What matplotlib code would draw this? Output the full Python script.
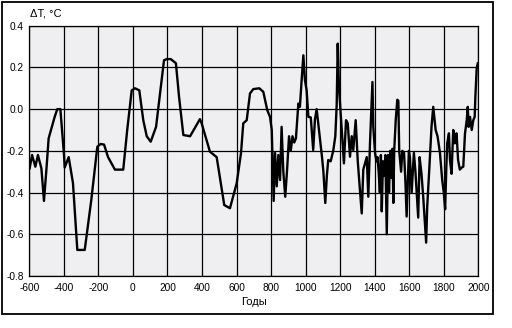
import matplotlib
matplotlib.use("Agg")
import matplotlib.pyplot as plt
from matplotlib.patches import Rectangle

years = [-598, -584, -565, -550, -530, -515, -501, -488, -453, -438, -420, -399, -395,
         -372, -347, -322, -279, -241, -206, -187, -167, -144, -104, -56, -33, -7, 12,
         37, 60, 80, 103, 134, 157, 180, 196, 219, 249, 267, 292, 331, 359, 388, 398,
         446, 485, 529, 562, 601, 626, 639, 659, 678, 697, 732, 755, 778, 794, 804,
         815, 823, 833, 842, 852, 861, 871, 882, 892, 904, 914, 924, 934, 944, 958,
         967, 977, 987, 996, 1006, 1016, 1030, 1044, 1054, 1064, 1075, 1085, 1095,
         1103, 1114, 1123, 1131, 1145, 1160, 1172, 1180, 1186, 1193, 1203, 1212, 1222,
         1234, 1244, 1257, 1267, 1276, 1290, 1302, 1315, 1325, 1334, 1354, 1363, 1373,
         1387, 1392, 1402, 1410, 1416, 1423, 1430, 1436, 1441, 1448, 1455, 1462, 1470,
         1477, 1483, 1490, 1497, 1503, 1508, 1513, 1522, 1531, 1537, 1542, 1553, 1560,
         1570, 1578, 1585, 1592, 1598, 1604, 1614, 1627, 1636, 1652, 1660, 1671, 1681,
         1698, 1704, 1716, 1729, 1739, 1753, 1764, 1778, 1791, 1800, 1808, 1815, 1820,
         1830, 1836, 1845, 1855, 1864, 1874, 1883, 1893, 1904, 1913, 1923, 1933, 1939,
         1944, 1952, 1962, 1971, 1979, 1983, 1991, 1997]
dT = [-0.284, -0.22, -0.276, -0.22, -0.284, -0.44, -0.29, -0.14, -0.037, 0.0, 0.0,
      -0.22, -0.28, -0.23, -0.355, -0.675, -0.675, -0.435, -0.18, -0.167, -0.17,
      -0.23, -0.29, -0.29, -0.10, 0.09, 0.10, 0.09, -0.053, -0.13, -0.156, -0.085,
      0.075, 0.234, 0.24, 0.24, 0.22, 0.06, -0.124, -0.13, -0.09, -0.048, -0.068,
      -0.204, -0.23, -0.46, -0.475, -0.355, -0.21, -0.068, -0.053, 0.075, 0.096,
      0.10, 0.083, -0.005, -0.037, -0.10,
      -0.44, -0.21, -0.37, -0.22, -0.34, -0.085, -0.30, -0.42, -0.30, -0.13,
      -0.20, -0.13, -0.16, -0.14, 0.027,
      0.011, 0.139, 0.258, 0.139, 0.09, -0.037, -0.04, -0.196, -0.05, 0.0,
      -0.08, -0.15, -0.23,
      -0.30, -0.45, -0.32, -0.244, -0.25, -0.20, -0.13, 0.02, 0.314, 0.107,
      -0.02, -0.13, -0.26,
      -0.053, -0.068, -0.228, -0.13, -0.196, -0.053, -0.25, -0.39, -0.50, -0.29,
      -0.23, -0.42, -0.16,
      0.13, -0.085, -0.21, -0.25, -0.23, -0.30, -0.40, -0.22, -0.49, -0.25, -0.32,
      -0.22, -0.60,
      -0.22, -0.40, -0.20, -0.33, -0.19, -0.45, -0.20, -0.05, 0.045, 0.04, -0.20,
      -0.30, -0.20,
      -0.21, -0.35, -0.515, -0.35, -0.20, -0.23, -0.40, -0.21, -0.30, -0.52, -0.23,
      -0.31, -0.42,
      -0.64, -0.47, -0.29, -0.085, 0.011, -0.10, -0.13, -0.21, -0.34, -0.40, -0.48,
      -0.276, -0.164,
      -0.116, -0.244, -0.31, -0.10, -0.164, -0.116, -0.244, -0.29, -0.28, -0.276,
      -0.116, -0.053, 0.011,
      -0.085, -0.037, -0.10, -0.053, -0.037, 0.059, 0.2, 0.22]

xticks = [-600, -400, -200, 0, 200, 400, 600, 800, 1000, 1200, 1400, 1600, 1800, 2000]
xticklabels = ["-600", "-400", "-200", "0", "200", "400", "600", "800", "1000",
               "1200", "1400", "1600", "1800", "2000"]
yticks = [-0.8, -0.6, -0.4, -0.2, 0.0, 0.2, 0.4]
yticklabels = ["-0.8", "-0.6", "-0.4", "-0.2", "0.0", "0.2", "0.4"]

plt.rcParams['font.family'] = ['Liberation Sans', 'DejaVu Sans']

fig = plt.figure(figsize=(5.12, 3.28), dpi=100)
W, H = 512, 328
ax = fig.add_axes([29.3 / W, 1 - 276 / H, (478.3 - 29.3) / W, (276 - 25.7) / H])
ax.set_facecolor('#efeff2')
ax.plot(years, dT, color='black', lw=1.7, zorder=3)
ax.set_xlim(-600, 2000)
ax.set_ylim(-0.8, 0.4)
ax.set_xticks(xticks)
ax.set_xticklabels(xticklabels)
ax.set_yticks(yticks)
ax.set_yticklabels(yticklabels)
ax.tick_params(length=0, labelsize=7.3, colors='black')
ax.tick_params(axis='x', pad=5)
ax.tick_params(axis='y', pad=4)
ax.grid(True, color='black', lw=0.9, zorder=1)
ax.set_axisbelow(True)
for s in ax.spines.values():
    s.set_color('black')
    s.set_linewidth(0.9)
ax.set_xlabel('Годы', fontsize=8, labelpad=3)

fig.text(30 / W, 1 - 13.7 / H, 'ΔT, °C', fontsize=8, ha='left', va='center')

fig.patches.append(Rectangle((1.5 / W, 1 - 313.5 / H), (493 - 1.5) / W, (313.5 - 1.5) / H,
                             transform=fig.transFigure, fill=False, edgecolor='black',
                             lw=1.3))

fig.savefig('out.png', dpi=100)
